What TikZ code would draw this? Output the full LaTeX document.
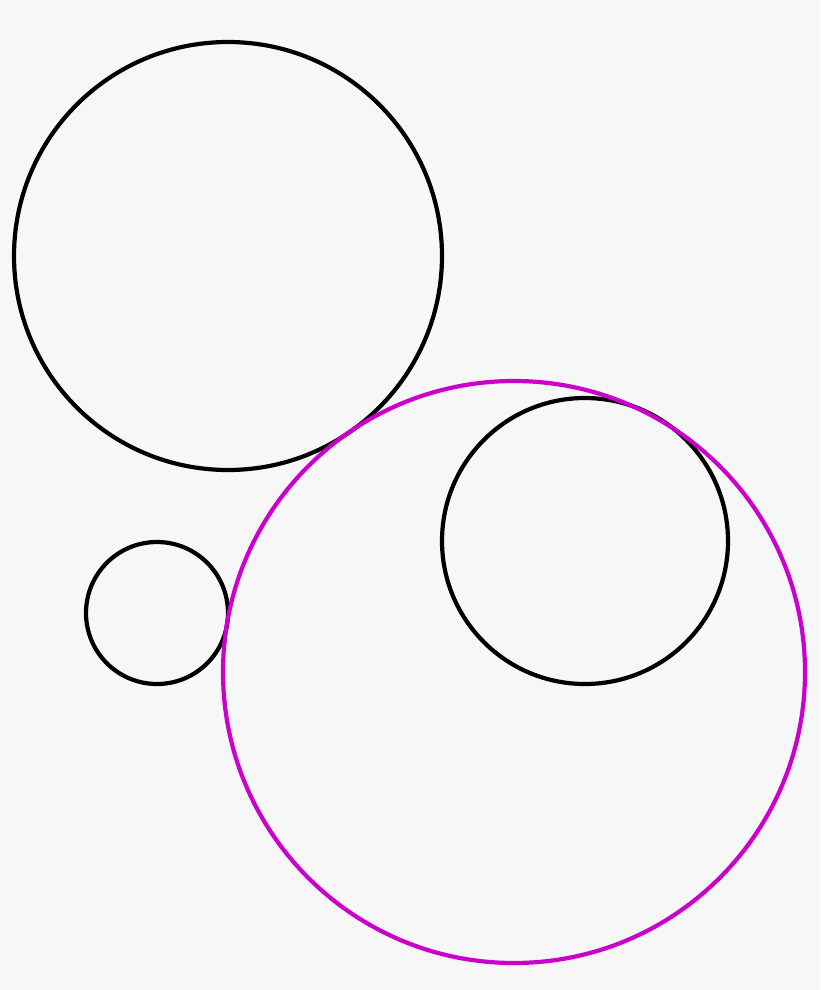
\documentclass[tikz,border=0pt]{standalone}
\definecolor{bgpaper}{HTML}{F7F7F7}
\definecolor{outercircle}{HTML}{CC00CC}
\begin{document}
\begin{tikzpicture}[x=1pt, y=-1pt, line width=4.2pt]
    \fill[bgpaper] (0,0) rectangle (820,990);
    \useasboundingbox (0,0) rectangle (820,990);

    % the three given circles
    \foreach \cx/\cy/\r in {228/256/214, 157/613/71, 585/541/143}
    \draw (\cx,\cy) circle [radius=\r];

    % tangent circle
    \draw[outercircle] (514,672) circle [radius=291];

  \end{tikzpicture}
\end{document}
